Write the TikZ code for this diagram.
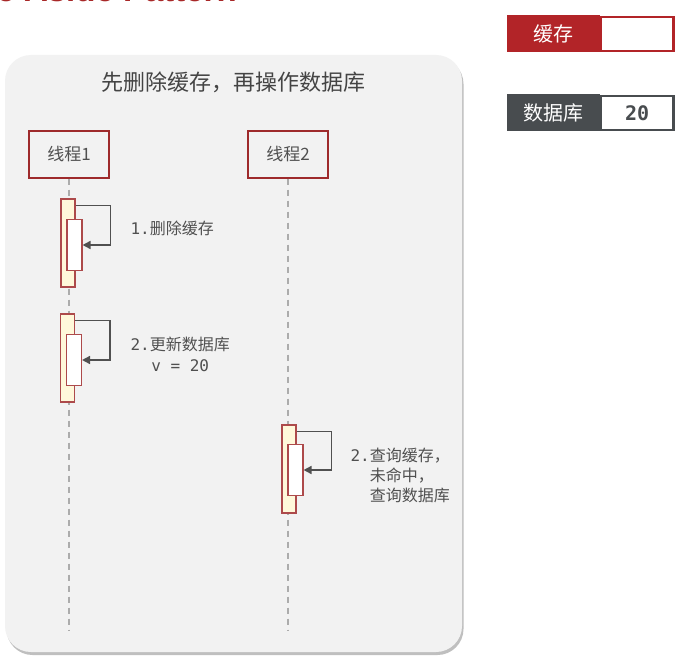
\documentclass[tikz,border=0pt]{standalone}
\usepackage{fontspec}
\setmonofont{DejaVu Sans Mono}
\newfontfamily\cjk{Noto Sans CJK SC}
\newfontfamily\headfont{Liberation Sans}
\usepackage{xcolor}
\usepackage{tikz}
\usetikzlibrary{arrows.meta, positioning, shadows}
\definecolor{panelbg}{RGB}{242,242,242}
\definecolor{lifered}{RGB}{158,42,43}
\definecolor{actfill}{RGB}{255,248,218}
\definecolor{ink}{RGB}{80,80,80}
\definecolor{cachered}{RGB}{178,36,40}
\definecolor{headred}{RGB}{168,40,40}
\definecolor{dbgray}{RGB}{72,76,79}

\begin{document}
\begin{tikzpicture}[x=1pt, y=-1pt,
  panel/.style={fill=panelbg, rounded corners=26pt, minimum width=457pt, minimum height=597pt,
                drop shadow={shadow xshift=1.5pt, shadow yshift=-3pt, fill=black, opacity=0.25}},
  thread/.style={draw=lifered, line width=1.3pt, minimum width=80pt, minimum height=47pt,
                 font=\cjk\fontsize{17}{20}\selectfont, text=ink},
  outer/.style={draw=lifered!85, fill=actfill, line width=1.1pt, minimum width=14pt,
                minimum height=88pt, inner sep=0pt},
  inner/.style={draw=lifered!85, fill=white, line width=1.1pt, minimum width=15pt,
                minimum height=51pt, inner sep=0pt},
  life/.style={gray!65, line width=1.3pt, dash pattern=on 6pt off 5pt},
  msg/.style={-{Triangle[length=8pt, width=8pt]}, ink, line width=1.6pt},
  note/.style={anchor=west, align=left, text=ink, font=\cjk\fontsize{16}{21}\selectfont},
  key/.style={minimum width=93pt, minimum height=37pt, inner sep=0pt, text=white,
              font=\cjk\fontsize{20}{20}\selectfont},
  val/.style={fill=white, line width=2.5pt, minimum width=73pt, minimum height=34pt, inner sep=0pt,
              text=dbgray, font=\ttfamily\bfseries\fontsize{20}{20}\selectfont}
]
  \clip (0,0) rectangle (695,655);
  \fill[white] (0,0) rectangle (695,655);

  % page heading, cut off at the top
  \node[anchor=base east, inner sep=0pt, text=headred,
        font=\headfont\bfseries\fontsize{33}{33}\selectfont] (heading) at (237,2) {Cache Aside Pattern};

  % sequence panel
  \node[panel] (frame) at (233.5,353.5) {};
  \node[text=ink!85!black, font=\cjk\fontsize{22}{24}\selectfont] (title) at (233,82) {先删除缓存，再操作数据库};

  \node[thread] (t1) at (69,154.5) {线程1};
  \node[thread] (t2) at (288,154.5) {线程2};
  \coordinate (t1end) at (69,630);
  \coordinate (t2end) at (288,630);
  \draw[life] (t1) -- (t1end);
  \draw[life] (t2) -- (t2end);

  % thread 1: delete cache
  \node[outer] (a1o) at (68,243) {};
  \node[inner] (a1i) at (74.5,245) {};
  \draw[msg] ([yshift=-7pt]a1o.north east) -- ++(35,0) |- (a1i.east);
  \node[note] (n1) at (127,228) {{\ttfamily 1.}删除缓存};

  % thread 1: update db
  \node[outer] (a2o) at (67.5,358) {};
  \node[inner] (a2i) at (74,360) {};
  \draw[msg] ([yshift=-7pt]a2o.north east) -- ++(35,0) |- (a2i.east);
  \node[note, align=center] (n2) at (127,354) {{\ttfamily 2.}更新数据库\\{\ttfamily v = 20}};

  % thread 2: query cache, miss, query db
  \node[outer] (a3o) at (289,469) {};
  \node[inner] (a3i) at (295.5,470) {};
  \draw[msg] ([yshift=-7pt]a3o.north east) -- ++(35,0) |- (a3i.east);
  \node[note, font=\cjk\fontsize{16}{20}\selectfont] (n3) at (347,475)
    {{\ttfamily 2.}查询缓存，\\{\ttfamily\phantom{2.}}未命中，\\{\ttfamily\phantom{2.}}查询数据库};

  % state tags
  \node[key, fill=cachered, anchor=west] (cachekey) at (507,34) {缓存};
  \node[val, draw=cachered, right=0pt of cachekey.east, anchor=west, xshift=-1pt] (cacheval) {};
  \node[key, fill=dbgray, anchor=west] (dbkey) at (507,113) {数据库};
  \node[val, draw=dbgray, right=0pt of dbkey.east, anchor=west, xshift=-1pt] (dbval) {20};
\end{tikzpicture}
\end{document}
